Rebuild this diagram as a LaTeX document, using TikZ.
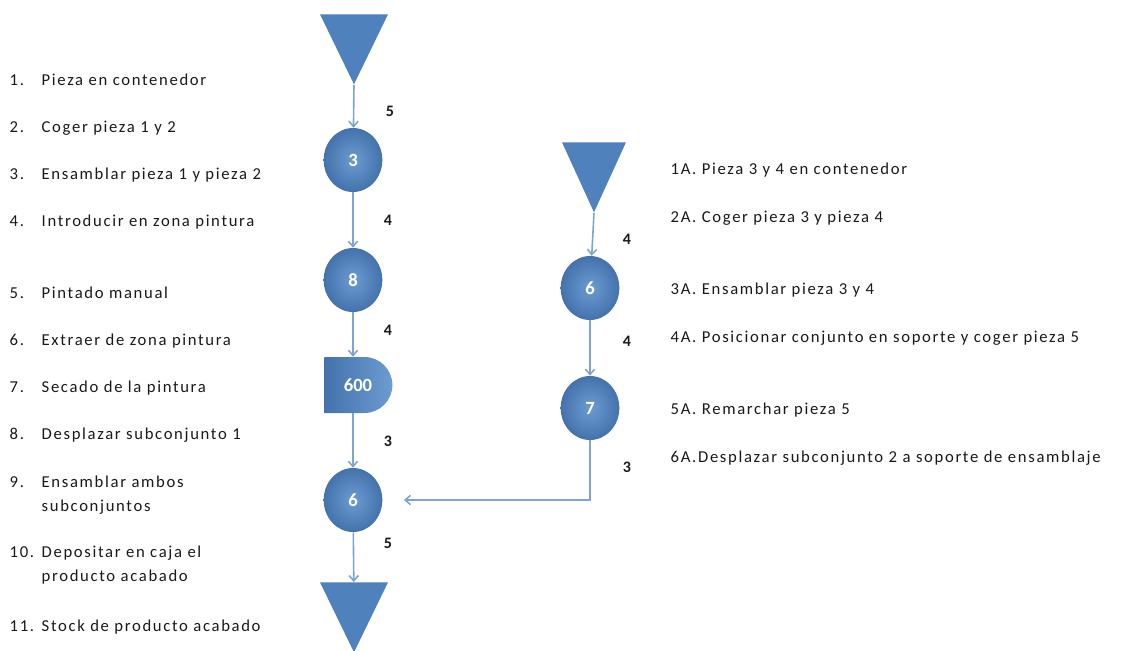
\documentclass[tikz,border=0pt]{standalone}
\usepackage{fontspec}
\setmainfont{Carlito}[LetterSpace=10]
\newfontfamily\labelfont{Carlito}
\usetikzlibrary{shapes.geometric,shapes.misc,arrows.meta}
\definecolor{procblue}{RGB}{79,129,189}
\definecolor{procdark}{RGB}{68,114,172}
\definecolor{proclight}{RGB}{108,156,210}
\definecolor{flowblue}{RGB}{128,164,210}
\definecolor{txtgray}{RGB}{25,25,25}
\tikzset{
  oper/.style={ellipse,minimum width=44pt,minimum height=48pt,inner sep=0pt,
    inner color=proclight,outer color=procdark,text=white,
    font=\labelfont\fontsize{14}{16}\selectfont\bfseries},
  stock/.style={isosceles triangle,shape border rotate=-90,isosceles triangle stretches,
    minimum width=51pt,minimum height=52.5pt,inner sep=0pt,fill=procblue,anchor=apex},
  waitbox/.style={rounded rectangle,rounded rectangle left arc=none,minimum width=51pt,
    minimum height=42pt,inner sep=0pt,left color=procdark,right color=proclight,
    text=white,font=\labelfont\fontsize{14}{16}\selectfont\bfseries},
  flow/.style={draw=flowblue,line width=1.2pt,->},
  dist/.style={font=\labelfont\fontsize{12}{14}\selectfont\bfseries,text=txtgray},
  item/.style={anchor=west,align=left,text=txtgray,font=\fontsize{12.5}{18}\selectfont}
}
\begin{document}
\begin{tikzpicture}[x=0.75pt,y=-0.75pt,>={Straight Barb[length=4pt,width=7pt]}]
\useasboundingbox (0,0) rectangle (1124,650);
% subconjunto 1
\node[stock] (t1) at (354,85) {};
\node[oper] (m3) at (353,160) {3};
\node[oper] (m8) at (353,280) {8};
\node[waitbox] (m600) at (358,385) {600};
\node[oper] (m6) at (353,500) {6};
\node[stock] (t2) at (354,653) {};
\draw[flow] (t1.apex) -- (m3);
\draw[flow] (m3) -- (m8);
\draw[flow] (m8) -- (m600.north -| m8);
\draw[flow] (m600.south -| m6) -- (m6);
\draw[flow] (m6) -- (t2);
% subconjunto 2
\node[stock,minimum width=48pt] (t3) at (594,213) {};
\node[oper] (r6) at (590,288) {6};
\node[oper] (r7) at (590,408) {7};
\draw[flow] (t3.apex) -- (r6);
\draw[flow] (r6) -- (r7);
\draw[flow,shorten >=16pt] (r7) |- (m6);
% distancias
\node[dist] (d1) at (390,111) {5};
\node[dist] (d2) at (388,220) {4};
\node[dist] (d3) at (388,330) {4};
\node[dist] (d4) at (388,441) {3};
\node[dist] (d5) at (388,543) {5};
\node[dist] (d6) at (627,239) {4};
\node[dist] (d7) at (627,341) {4};
\node[dist] (d8) at (627,467) {3};
% operaciones
\foreach \y/\num/\txt in {80/1/Pieza en contenedor,128/2/Coger pieza 1 y 2,
    175/3/Ensamblar pieza 1 y pieza 2,222/4/Introducir en zona pintura,
    293/5/Pintado manual,341/6/Extraer de zona pintura,388/7/Secado de la pintura,
    435/8/Desplazar subconjunto 1,
    495/9/{Ensamblar ambos\\\hspace*{24pt}subconjuntos},
    565/10/{Depositar en caja el\\\hspace*{24pt}producto acabado},
    627/11/Stock de producto acabado}
  \node[item] (s\num) at (5,\y) {\makebox[24pt][l]{\num.}\txt};
\foreach \y/\num/\txt in {170/1/Pieza 3 y 4 en contenedor,218/2/Coger pieza 3 y pieza 4,
    290/3/Ensamblar pieza 3 y 4,338/4/Posicionar conjunto en soporte y coger pieza 5,
    410/5/Remarchar pieza 5}
  \node[item] (a\num) at (666,\y) {\num A. \txt};
\node[item] (a6) at (666,458) {6A.Desplazar subconjunto 2 a soporte de ensamblaje};
\end{tikzpicture}
\end{document}
